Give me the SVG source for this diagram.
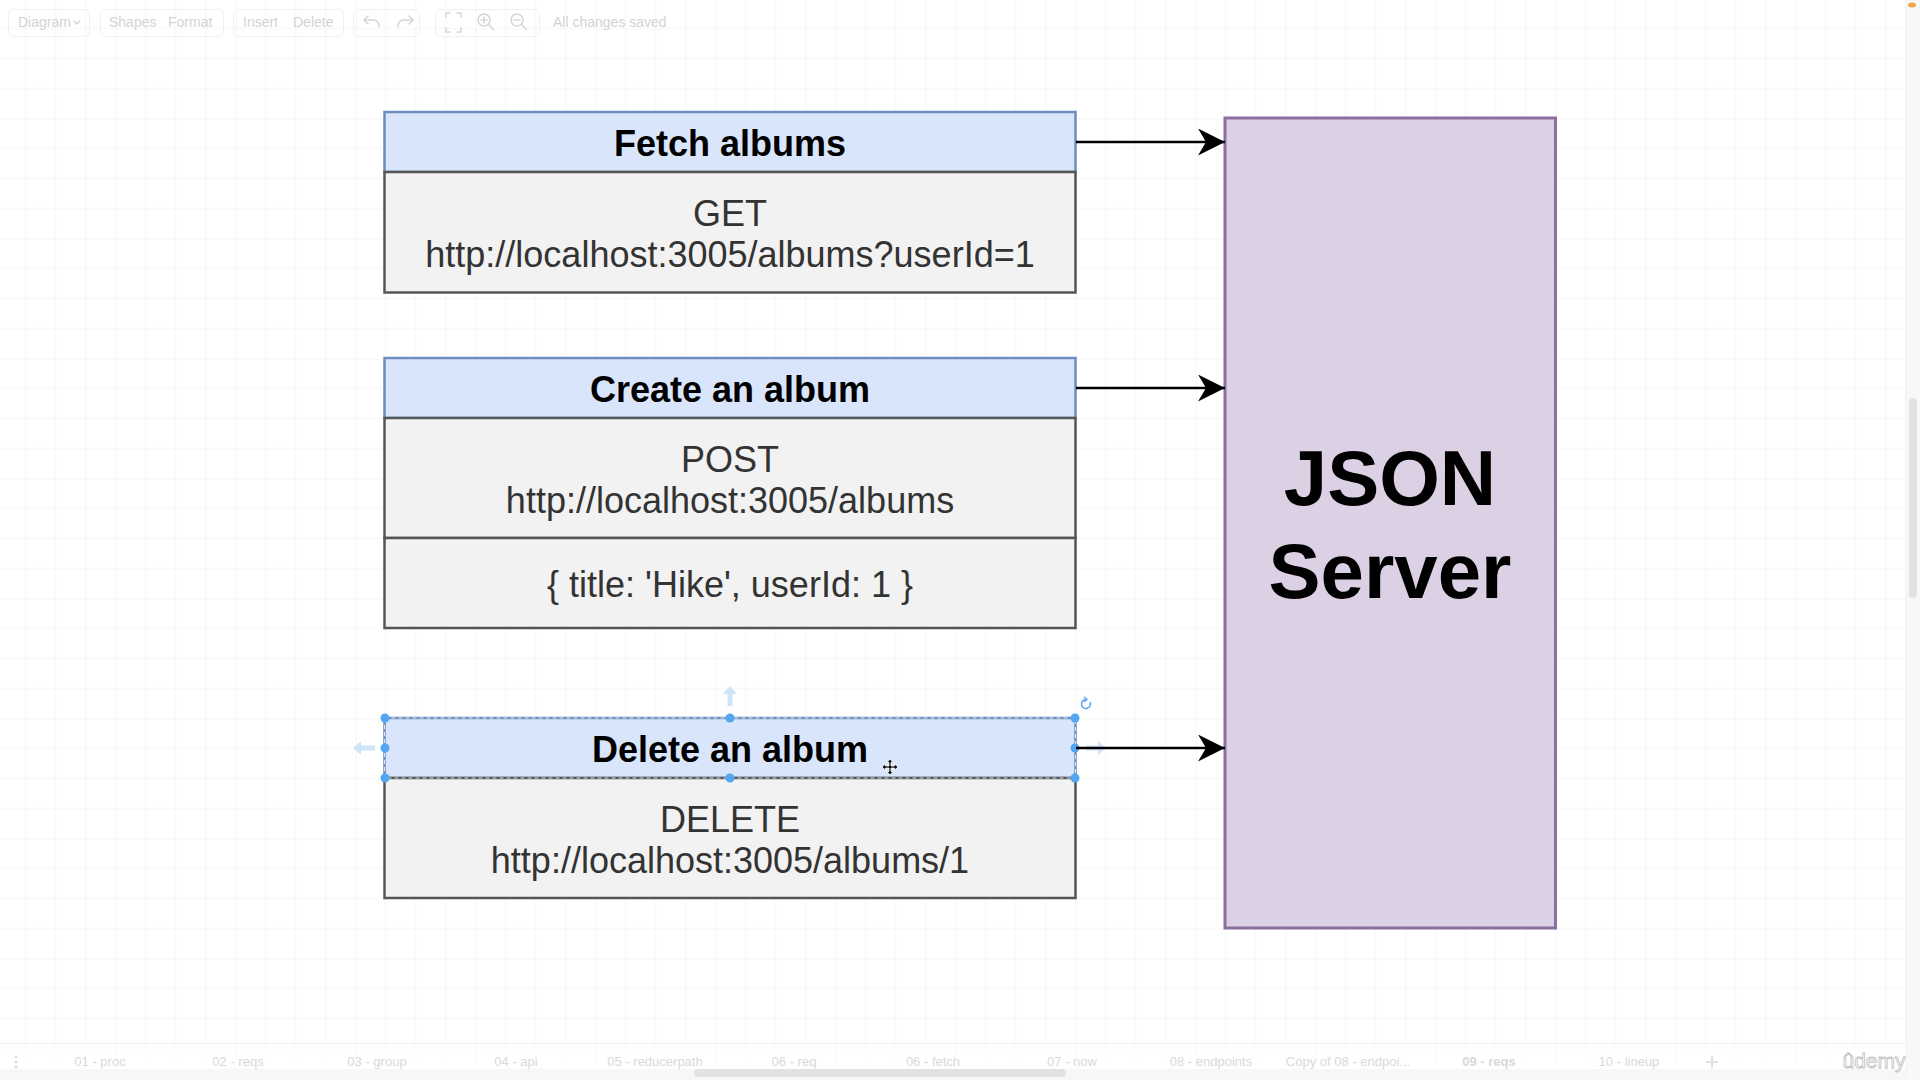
<svg xmlns="http://www.w3.org/2000/svg" width="1920" height="1080" viewBox="0 0 1920 1080">
  <defs>
    <pattern id="grid" patternUnits="userSpaceOnUse" x="115.5" y="118.5" width="120" height="120">
      <path d="M30,0V120M60,0V120M90,0V120M0,30H120M0,60H120M0,90H120" stroke="#f4f4f4" stroke-width="1" fill="none"/>
      <path d="M0,0V120M0,0H120" stroke="#e9e9e9" stroke-width="1" fill="none"/>
    </pattern>
    <marker id="arrow" markerUnits="userSpaceOnUse" markerWidth="28" markerHeight="28" refX="27" refY="13.5" orient="auto">
      <path d="M0,0 L27,13.5 L0,27 L8,13.5 Z" fill="#000"/>
    </marker>
    <style>
      .ui { font-family: "Liberation Sans", Arial, sans-serif; font-size: 14px; fill: #d3d3d3; }
      .tab { font-family: "Liberation Sans", Arial, sans-serif; font-size: 13px; fill: #d9d9d9; text-anchor: middle; }
      .tbbox { fill: none; stroke: #f0f0f0; stroke-width: 1; }
      .icon { fill: none; stroke: #d6d6d6; stroke-width: 1.6; stroke-linecap: round; stroke-linejoin: round; }
      .hdr { fill: #d8e5fa; stroke: #6c8ebf; stroke-width: 2.5; }
      .body { fill: #f2f2f2; stroke: #555555; stroke-width: 2.5; }
      .htxt { font-family: "Liberation Sans", Arial, Helvetica, sans-serif; font-size: 36px; font-weight: bold; fill: #000; text-anchor: middle; }
      .btxt { font-family: "Liberation Sans", Arial, Helvetica, sans-serif; font-size: 36px; fill: #333333; text-anchor: middle; }
      .server { fill: #dcd0e4; stroke: #8a6fa0; stroke-width: 3; }
      .stxt { font-family: "Liberation Sans", Arial, Helvetica, sans-serif; font-size: 78px; font-weight: bold; fill: #000; text-anchor: middle; }
      .conn { stroke: #000; stroke-width: 2.5; fill: none; }
      .handle { fill: #52a6f2; }
      .hint { fill: #cfe3f8; }
    </style>
  </defs>

  <!-- canvas -->
  <rect x="0" y="0" width="1920" height="1080" fill="#ffffff"/>
  <rect x="0" y="0" width="1920" height="1080" fill="url(#grid)"/>

  <!-- toolbar -->
  <g id="toolbar">
    <rect class="tbbox" x="8.5" y="9.5" width="81" height="27" rx="5"/>
    <rect class="tbbox" x="100.5" y="9.5" width="123" height="27" rx="5"/>
    <rect class="tbbox" x="233.5" y="9.5" width="110" height="27" rx="5"/>
    <rect class="tbbox" x="353.5" y="9.5" width="66" height="27" rx="5"/>
    <rect class="tbbox" x="435.5" y="9.5" width="104" height="27" rx="5"/>
    <text class="ui" x="18" y="27">Diagram</text>
    <path class="icon" d="M74,21 l3,3 l3,-3" stroke-width="1"/>
    <text class="ui" x="109" y="27">Shapes</text>
    <text class="ui" x="168" y="27">Format</text>
    <text class="ui" x="243" y="27">Insert</text>
    <text class="ui" x="293" y="27">Delete</text>
    <path class="icon" d="M364,20 l4,-4 M364,20 l4,4 M364,20 h10 a6,6 0 0 1 5,7"/>
    <path class="icon" d="M413,20 l-4,-4 M413,20 l-4,4 M413,20 h-10 a6,6 0 0 0 -5,7" stroke="#e6e6e6"/>
    <path class="icon" d="M446,17 v-4 h4 M457,13 h4 v4 M461,28 v4 h-4 M450,32 h-4 v-4"/>
    <circle class="icon" cx="484" cy="20" r="6"/>
    <path class="icon" d="M488.5,24.5 l5,5 M481,20 h6 M484,17 v6"/>
    <circle class="icon" cx="517" cy="20" r="6"/>
    <path class="icon" d="M521.5,24.5 l5,5 M514,20 h6"/>
    <text class="ui" x="553" y="27">All changes saved</text>
  </g>

  <!-- right scrollbar -->
  <g id="vscroll">
    <rect x="1906" y="0" width="14" height="1080" fill="#f8f8f8"/>
    <line x1="1906" y1="0" x2="1906" y2="1080" stroke="#eeeeee" stroke-width="1"/>
    <rect x="1909" y="398" width="8" height="200" rx="4" fill="#e2e2e2"/>
    <ellipse cx="1912" cy="5" rx="4" ry="2.5" fill="#f3a64a"/>
  </g>

  <!-- bottom tab bar -->
  <g id="tabbar">
    <rect x="0" y="1043" width="1906" height="37" fill="#ffffff" opacity="0.55"/>
    <line x1="0" y1="1043.5" x2="1906" y2="1043.5" stroke="#eeeeee" stroke-width="1"/>
    <rect x="0" y="1069" width="1906" height="11" fill="#f7f7f7"/>
    <rect x="694" y="1069" width="372" height="8" rx="4" fill="#e2e2e2"/>
    <circle cx="16" cy="1057" r="1.5" fill="#dddddd"/>
    <circle cx="16" cy="1062" r="1.5" fill="#dddddd"/>
    <circle cx="16" cy="1067" r="1.5" fill="#dddddd"/>
    <text class="tab" x="100" y="1066">01 - proc</text>
    <text class="tab" x="238" y="1066">02 - reqs</text>
    <text class="tab" x="377" y="1066">03 - group</text>
    <text class="tab" x="516" y="1066">04 - api</text>
    <text class="tab" x="655" y="1066">05 - reducerpath</text>
    <text class="tab" x="794" y="1066">06 - req</text>
    <text class="tab" x="933" y="1066">06 - fetch</text>
    <text class="tab" x="1072" y="1066">07 - now</text>
    <text class="tab" x="1211" y="1066">08 - endpoints</text>
    <text class="tab" x="1348" y="1066">Copy of 08 - endpoi...</text>
    <text class="tab" x="1489" y="1066" font-weight="bold" fill="#cbcbcb">09 - reqs</text>
    <text class="tab" x="1629" y="1066">10 - lineup</text>
    <path d="M1712,1056 v12 M1706,1062 h12" stroke="#e0e0e0" stroke-width="2"/>
    <text x="1874" y="1068" font-family="'Liberation Sans', Arial, sans-serif" font-size="21" fill="#ffffff" stroke="#bdbdbd" stroke-width="0.8" text-anchor="middle">ûdemy</text>
  </g>

  <!-- Fetch albums -->
  <g id="node-fetch">
    <rect class="hdr" x="384.5" y="112" width="691" height="60"/>
    <rect class="body" x="384.5" y="172" width="691" height="120.5"/>
    <text class="htxt" x="730" y="156">Fetch albums</text>
    <text class="btxt" x="730" y="226">GET</text>
    <text class="btxt" x="730" y="267">http://localhost:3005/albums?userId=1</text>
  </g>

  <!-- Create an album -->
  <g id="node-create">
    <rect class="hdr" x="384.5" y="358" width="691" height="60"/>
    <rect class="body" x="384.5" y="418" width="691" height="120"/>
    <rect class="body" x="384.5" y="538" width="691" height="90"/>
    <text class="htxt" x="730" y="402">Create an album</text>
    <text class="btxt" x="730" y="472">POST</text>
    <text class="btxt" x="730" y="513">http://localhost:3005/albums</text>
    <text class="btxt" x="730" y="597">{ title: 'Hike', userId: 1 }</text>
  </g>

  <!-- Delete an album (selected) -->
  <g id="node-delete">
    <rect class="hdr" x="384.5" y="718" width="691" height="60"/>
    <rect class="body" x="384.5" y="778" width="691" height="120"/>
    <rect x="384.5" y="718" width="691" height="60" fill="none" stroke="#ffffff" stroke-width="1" stroke-dasharray="4 3" opacity="0.8"/>
    <text class="htxt" x="730" y="762">Delete an album</text>
    <text class="btxt" x="730" y="832">DELETE</text>
    <text class="btxt" x="730" y="873">http://localhost:3005/albums/1</text>
  </g>

  <!-- JSON Server -->
  <g id="node-server">
    <rect class="server" x="1225" y="118" width="330.5" height="810"/>
    <text class="stxt" x="1390" y="505">JSON</text>
    <text class="stxt" x="1390" y="598">Server</text>
  </g>

  <!-- selection hints -->
  <g id="selection">
    <path class="hint" d="M730,686 l-7,8 h4.5 v12 h5 v-12 h4.5 z"/>
    <path class="hint" d="M353,748 l8,-7 v4.5 h14 v5 h-14 v4.5 z"/>
    <path class="hint" d="M1106,748 l-8,-7 v4.5 h-12 v5 h12 v4.5 z"/>
    <circle class="handle" cx="385" cy="718" r="4.5"/>
    <circle class="handle" cx="730" cy="718" r="4.5"/>
    <circle class="handle" cx="1075" cy="718" r="4.5"/>
    <circle class="handle" cx="385" cy="748" r="4.5"/>
    <circle class="handle" cx="1075" cy="748" r="4.5"/>
    <circle class="handle" cx="385" cy="778" r="4.5"/>
    <circle class="handle" cx="730" cy="778" r="4.5"/>
    <circle class="handle" cx="1075" cy="778" r="4.5"/>
    <path d="M1090,702 a4.5,4.5 0 1 1 -4,-2.5" fill="none" stroke="#52a6f2" stroke-width="1.5"/>
    <path d="M1084,697 l3,2.5 l-3,2.5" fill="none" stroke="#52a6f2" stroke-width="1.3"/>
    <path d="M890,759 l-3,3.5 h2 v3.5 h-3.5 v-2 l-3.5,3 l3.5,3 v-2 h3.5 v3.5 h-2 l3,3.5 l3,-3.5 h-2 v-3.5 h3.5 v2 l3.5,-3 l-3.5,-3 v2 h-3.5 v-3.5 h2 z" fill="#000" stroke="#ffffff" stroke-width="0.8"/>
  </g>

  <!-- connectors -->
  <g id="connectors">
    <line class="conn" x1="1076" y1="142" x2="1225" y2="142" marker-end="url(#arrow)"/>
    <line class="conn" x1="1076" y1="388" x2="1225" y2="388" marker-end="url(#arrow)"/>
    <line class="conn" x1="1076" y1="748" x2="1225" y2="748" marker-end="url(#arrow)"/>
  </g>
</svg>
